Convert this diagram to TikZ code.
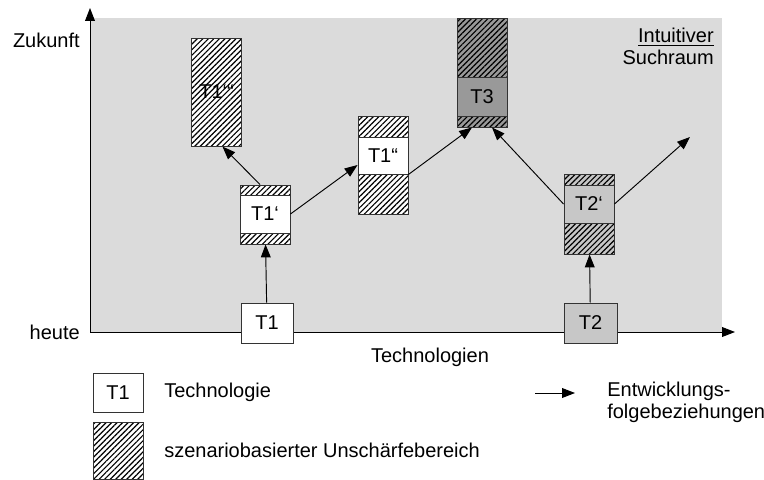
\documentclass[tikz,border=0pt]{standalone}
\usepackage{fontspec}
\setmainfont{Liberation Sans}
\usetikzlibrary{arrows.meta,patterns.meta}

\begin{document}
\begin{tikzpicture}[
        x=0.0225cm, y=-0.0225cm,
        font=\fontsize{12.8}{14}\selectfont,
        tech/.style={
            draw=black!80, line width=0.6pt, fill=#1, inner sep=0pt,
            minimum width=50*\px, minimum height=38*\px
        },
        tech/.default=white,
        zone/.style={
            draw=black!80, line width=0.6pt, inner sep=0pt,
            preaction={fill=#1},
            pattern={Lines[angle=45, distance=2.5pt, line width=0.75pt]},
            minimum width=50*\px
        },
        zone/.default=white,
        txt/.style={inner sep=0pt},
        arrow/.style={-{Triangle[length=2.9mm, width=2.2mm]}, line width=0.6pt}
        ]

        \def\px{0.0225cm}
        \useasboundingbox (0,0) rectangle (764,479);

        % --- Search space ---
        \fill[black!14] (90,18) rectangle (722,332);
        \node[txt, anchor=north east, align=right] (space) at (714,28)
        {\underline{Intuitiver}\\Suchraum};

        % --- Axes ---
        \coordinate (origin) at (90,332);
        \coordinate (ytip) at (90,8);
        \coordinate (xtip) at (735,332);
        \draw[arrow] (origin) -- (ytip);
        \draw[arrow] (origin) -- (xtip);
        \node[txt, anchor=east] (future) at (80,40) {Zukunft};
        \node[txt, anchor=east] (today) at (80,332) {heute};
        \node[txt] (xlabel) at (430,357) {Technologien};

        % --- Technologies today ---
        \node[tech, minimum width=52*\px, minimum height=40*\px] (t1) at (267,323) {T1};
        \node[tech=black!22, minimum width=53*\px, minimum height=40*\px] (t2) at (590.5,323) {T2};

        % --- Uncertainty zones with successors ---
        \node[zone, minimum height=108*\px] (t1ppp) at (216.5,92) {T1‘“};

        \node[zone, minimum height=59*\px] (t1p-zone) at (265,214.5) {};
        \node[tech] (t1p) at (265,214) {T1‘};

        \node[zone, minimum height=98*\px] (t1pp-zone) at (383,165) {};
        \node[tech, minimum height=37*\px] (t1pp) at (383,155.5) {T1“};

        \node[zone=black!40, minimum height=109*\px] (t3-zone) at (482,72.5) {};
        \node[tech=black!40, minimum height=39*\px] (t3) at (482,96.5) {T3};

        \node[zone=black!22, minimum height=80*\px] (t2p-zone) at (589,214) {};
        \node[tech=black!22] (t2p) at (589,204) {T2‘};

        \coordinate (t2next) at (690,137);

        % --- Arrows ---
        \draw[arrow] (t1) -- (t1p-zone);
        \draw[arrow] ([xshift=-5*\px]t1p-zone.north) -- ([xshift=6*\px]t1ppp.south);
        \draw[arrow] (t1p.east) -- (t1pp-zone.west);
        \draw[arrow] (t1pp.south east) -- ([xshift=-10*\px]t3-zone.south);
        \draw[arrow] (t2p.west) -- ([xshift=10*\px]t3-zone.south);
        \draw[arrow] (t2p.east) -- (t2next);
        \draw[arrow] (t2) -- (t2p-zone);

        % --- Legend ---
        \node[tech, minimum height=39*\px] (key-tech) at (118,392.5) {T1};
        \node[txt, anchor=west] (key-tech-text) at (164,392) {Technologie};
        \node[zone, minimum height=57*\px] (key-zone) at (118,450.5) {};
        \node[txt, anchor=west] (key-zone-text) at (164,450) {szenariobasierter Unschärfebereich};
        \coordinate (key-from) at (535,393);
        \coordinate (key-to) at (575,393);
        \draw[arrow] (key-from) -- (key-to);
        \node[txt, anchor=west, align=left] (key-arrow-text) at (607,402)
        {Entwicklungs-\\folgebeziehungen};

    \end{tikzpicture}
\end{document}
